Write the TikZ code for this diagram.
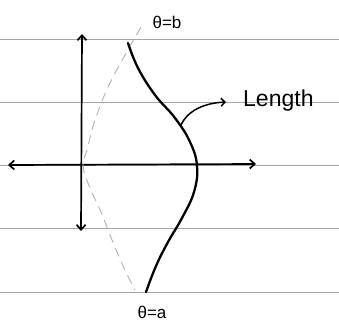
\documentclass[tikz,border=0pt]{standalone}
\usepackage{fontspec}
\setmainfont{Liberation Sans}
\usetikzlibrary{arrows.meta}
\begin{document}
\begin{tikzpicture}[x=1pt,y=-1pt,
  rule/.style={draw=gray!70,line width=1pt},
  axis/.style={draw=black,line width=1.7pt,{Straight Barb[length=5pt,width=9pt]}-{Straight Barb[length=5pt,width=9pt]}},
  curve/.style={draw=black,line width=2.3pt,line cap=round},
  guide/.style={draw=gray!60,line width=0.9pt,dash pattern=on 9pt off 6pt},
  lbl/.style={inner sep=0pt,font=\fontsize{17}{19}\selectfont},
  pointer/.style={draw=black,line width=1.5pt,-{Straight Barb[length=4pt,width=8pt]}}]
\useasboundingbox (0,0) rectangle (339,321);
\fill[white] (0,0) rectangle (339,321);
% ruled paper lines
\foreach \yy in {40,102,165,228,292} \draw[rule] (0,\yy) -- (339,\yy);
% axes
\coordinate (xl) at (8,165);
\coordinate (xr) at (256,164);
\coordinate (yt) at (82,34);
\coordinate (yb) at (81,231);
\draw[axis] (xl) -- (xr);
\draw[axis] (yt) -- (yb);
% dashed guide curve
\draw[guide] plot[smooth,tension=0.6] coordinates {(141,27) (125,55) (108,87) (95,120) (87,150) (83,166) (90,188) (101,212) (112,240) (124,268) (135,290)};
% main curve
\draw[curve] plot[smooth,tension=0.7] coordinates {(128,43) (138,68) (155,95) (175,118) (190,142) (197,166) (194,192) (182,218) (168,242) (156,266) (146,292)};
% labels
\node[lbl] (b) at (167,22) {θ=b};
\node[lbl] (a) at (152,312) {θ=a};
\node[lbl,font=\fontsize{23}{25}\selectfont,anchor=west] (len) at (243,101) {Length};
\coordinate (onc) at (181,125);
\coordinate (tip) at (226,102);
\draw[pointer] (onc) .. controls (188,110) and (205,103) .. (tip);
\end{tikzpicture}
\end{document}
